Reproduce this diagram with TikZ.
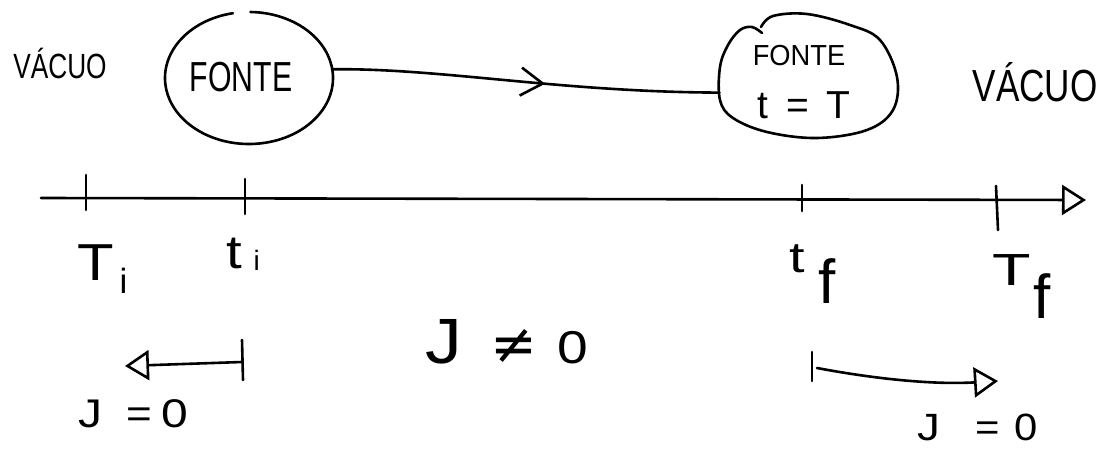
\documentclass[tikz,border=0pt]{standalone}
\usepackage{graphicx}
\usepackage{fontspec}
\setmainfont{Liberation Sans}
\newfontfamily\dvfont{DejaVu Sans}
\usetikzlibrary{arrows.meta,decorations.markings,shapes.geometric}
\newcommand{\hsz}[1]{\fontsize{#1}{#1}\selectfont}
\newcommand{\hx}[2]{\scalebox{#1}[1]{#2}}
\begin{document}
\begin{tikzpicture}[x=1pt,y=-1pt,
  line width=2.6pt, line cap=round, line join=round,
  txt/.style={inner sep=0pt, outer sep=0pt, anchor=base},
  txtw/.style={inner sep=0pt, outer sep=0pt, anchor=base west},
  tri/.style={-{Triangle[open,length=24pt,width=30pt]}},
  midarrow/.style={postaction={decorate},
    decoration={markings, mark=at position 0.55 with {\arrow{Straight Barb[length=22pt,width=28pt]}}}}]
\useasboundingbox (0,0) rectangle (1112,450);

% --- top row ---
\node[txt] (vacL) at (60,78) {\hsz{35}\hx{0.75}{VÁCUO}};

\node[ellipse, minimum width=168pt, minimum height=132pt, inner sep=0pt, outer sep=0pt] (fonteA) at (249,78) {};
\draw ([shift={(101:84pt and 66pt)}]fonteA.center) arc[start angle=101, end angle=449, x radius=84pt, y radius=66pt];
\node[txt] (txtA) at (241,91) {\hsz{42}\hx{0.72}{FONTE}};

\node[minimum width=177pt, minimum height=124pt, inner sep=0pt, outer sep=0pt] (fonteB) at (808,77) {};
\draw plot[smooth, tension=0.6] coordinates {(761,27) (773,16) (807,14) (850,25) (880,40) (897,77) (893,110) (867,130) (817,138) (767,132) (733,118) (720,100) (720,67) (728,45) (740,30) (752,27) (762,33)};
\node[txt] (txtB1) at (799,65) {\hsz{29}\hx{0.94}{FONTE}};
\node[txt] (txtB2) at (804,118) {\hsz{39}t\hspace{0.45em}=\hspace{0.45em}T};

\node[txt] (vacR) at (1035,101) {\hsz{45}\hx{0.78}{VÁCUO}};

\draw[midarrow] (fonteA.6) .. controls (440,68) and (560,92) .. (fonteB.190);

% --- time axis ---
\coordinate (axS) at (41,198);
\coordinate (axE) at (1086,200);
\draw[tri] (axS) -- (axE);

\coordinate (tk1a) at (86,175);  \coordinate (tk1b) at (86,210);
\coordinate (tk2a) at (245,179); \coordinate (tk2b) at (245,214);
\coordinate (tk3a) at (802,185); \coordinate (tk3b) at (802,211);
\coordinate (tk4a) at (996,186); \coordinate (tk4b) at (998,230);
\draw (tk1a) -- (tk1b);
\draw (tk2a) -- (tk2b);
\draw (tk3a) -- (tk3b);
\draw (tk4a) -- (tk4b);

\node[txtw] (lTi) at (77,280) {\hsz{52}\hx{1.15}{T}\hspace{6pt}\raisebox{-13pt}{\hsz{35}i}};
\node[txtw] (lti) at (226,268) {\hsz{47}\hx{1.2}{t}\hspace{12pt}\raisebox{-2pt}{\hsz{28}i}};
\node[txtw] (ltf) at (789,272) {\hsz{43}\hx{1.3}{t}\hspace{14pt}\raisebox{-31pt}{\hsz{62}f}};
\node[txtw] (lTf) at (992,285) {\hsz{45}\hx{1.4}{T}\hspace{3pt}\raisebox{-33pt}{\hsz{62}f}};

% --- J labels ---
\node[txtw] (jne) at (425,363) {\hsz{64}\hx{1.15}{J}\hspace{29pt}{\dvfont\hsz{56}≠}\hspace{20pt}{\hsz{46}\hx{1.2}{0}}};

% left bracket
\coordinate (lbT) at (242,340);
\coordinate (lbB) at (243,380);
\coordinate (lbS) at (242,362);
\coordinate (lbE) at (125,366);
\draw (lbT) -- (lbB);
\draw[tri] (lbS) -- (lbE);
\node[txtw] (jl) at (78,427) {\hsz{40}\hx{1.2}{J}\hspace{24pt}\hx{1.1}{=}\hspace{10pt}\hx{1.2}{0}};

% right bracket
\coordinate (rbT) at (812,352);
\coordinate (rbB) at (812,381);
\coordinate (rbS) at (817,368);
\coordinate (rbE) at (998,381);
\draw (rbT) -- (rbB);
\draw[tri] (rbS) .. controls (870,378) and (930,385) .. (rbE);
\node[txtw] (jr) at (917,440) {\hsz{38}\hx{1.2}{J}\hspace{36pt}\hx{1.1}{=}\hspace{14pt}\hx{1.1}{0}};
\end{tikzpicture}
\end{document}
